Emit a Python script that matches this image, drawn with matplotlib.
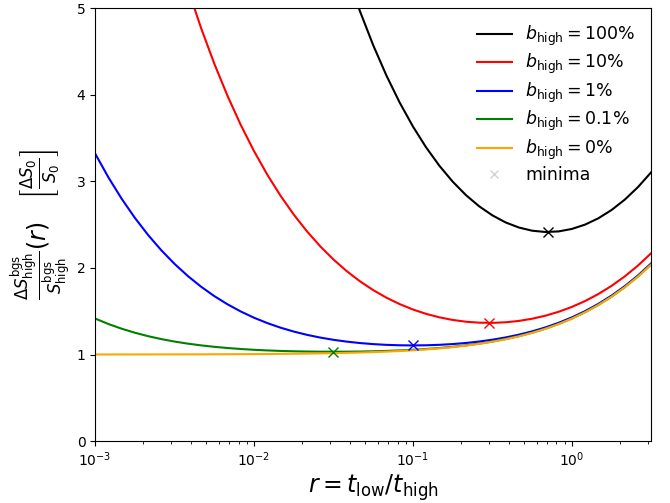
import numpy as np
import matplotlib
matplotlib.use("Agg")
import matplotlib.pyplot as plt

# r = t_low / t_high sample points (12 per decade, 1e-3 .. 10**0.5)
r_pts = [0.0010000, 0.0012115, 0.0014678, 0.0017783, 0.0021544, 0.0026102, 0.0031623,
         0.0038312, 0.0046416, 0.0056234, 0.0068129, 0.0082540,
         0.010000, 0.012115, 0.014678, 0.017783, 0.021544, 0.026102, 0.031623,
         0.038312, 0.046416, 0.056234, 0.068129, 0.082540,
         0.10000, 0.12115, 0.14678, 0.17783, 0.21544, 0.26102, 0.31623,
         0.38312, 0.46416, 0.56234, 0.68129, 0.82540,
         1.0000, 1.2115, 1.4678, 1.7783, 2.1544, 2.6102, 3.1623]

# b_high = 0%
y_b0 = [1.0005, 1.0006, 1.0007, 1.0009, 1.0011, 1.0013, 1.0016, 1.0019, 1.0023, 1.0028,
        1.0034, 1.0041, 1.0050, 1.0060, 1.0073, 1.0088, 1.0107, 1.0130, 1.0157, 1.0190,
        1.0229, 1.0277, 1.0335, 1.0405, 1.0488, 1.0588, 1.0709, 1.0853, 1.1025, 1.1230,
        1.1473, 1.1761, 1.2100, 1.2499, 1.2966, 1.3511, 1.4142, 1.4871, 1.5709, 1.6668,
        1.7761, 1.9001, 2.0402]

# b_high = 0.1%
y_b01 = [1.4153, 1.3523, 1.2980, 1.2515, 1.2118, 1.1780, 1.1495, 1.1255, 1.1055, 1.0888,
         1.0750, 1.0637, 1.0545, 1.0472, 1.0415, 1.0373, 1.0344, 1.0327, 1.0321, 1.0327,
         1.0344, 1.0373, 1.0416, 1.0473, 1.0546, 1.0637, 1.0751, 1.0889, 1.1056, 1.1257,
         1.1497, 1.1782, 1.2119, 1.2517, 1.2982, 1.3526, 1.4156, 1.4885, 1.5722, 1.6681,
         1.7774, 1.9014, 2.0415]

# b_high = 1%
y_b1 = [3.3198, 3.0455, 2.7990, 2.5778, 2.3799, 2.2031, 2.0458, 1.9063, 1.7830, 1.6745,
        1.5794, 1.4966, 1.4248, 1.3630, 1.3100, 1.2650, 1.2272, 1.1956, 1.1697, 1.1488,
        1.1324, 1.1201, 1.1116, 1.1066, 1.1050, 1.1067, 1.1119, 1.1206, 1.1331, 1.1497,
        1.1709, 1.1971, 1.2290, 1.2672, 1.3125, 1.3659, 1.4283, 1.5006, 1.5841, 1.6798,
        1.7890, 1.9131, 2.0535]

# b_high = 10% (from r = 0.0038, just above the top of the axes)
y_b10 = [5.2255, 4.7696, 4.3576, 3.9856, 3.6502, 3.3483, 3.0769, 2.8335, 2.6159, 2.4218,
         2.2494, 2.0969, 1.9627, 1.8454, 1.7436, 1.6561, 1.5818, 1.5199, 1.4692, 1.4292,
         1.3993, 1.3788, 1.3676, 1.3653, 1.3720, 1.3878, 1.4130, 1.4478, 1.4930, 1.5492,
         1.6171, 1.6978, 1.7923, 1.9017, 2.0272, 2.1703]

# b_high = 100% (from r = 0.038)
y_b100 = [5.4017, 4.9636, 4.5712, 4.2207, 3.9090, 3.6332, 3.3906, 3.1791, 2.9965, 2.8412,
          2.7117, 2.6067, 2.5251, 2.4663, 2.4296, 2.4146, 2.4212, 2.4495, 2.4997, 2.5723,
          2.6681, 2.7880, 2.9332, 3.1050]

# minima of each curve (100%, 10%, 1%, 0.1%)
r_min = [0.7071, 0.3015, 0.0995, 0.0316]
y_min = [2.4142, 1.3650, 1.1050, 1.0321]

labels = ["100\\%", "10\\%", "1\\%", "0.1\\%", "0\\%"]
colors = ["black", "red", "blue", "green", "orange"]

fig, ax = plt.subplots(figsize=(6.7, 5.03), dpi=100)
fig.subplots_adjust(left=0.142, right=0.972, top=0.984, bottom=0.123)

series = [(r_pts[-len(y_b100):], y_b100), (r_pts[-len(y_b10):], y_b10),
          (r_pts, y_b1), (r_pts, y_b01), (r_pts, y_b0)]
for (xs, ys), lab, c in zip(series, labels, colors):
    ax.plot(xs, ys, color=c, linewidth=1.5, label=r"$b_{\rm high} = %s$" % lab)

for xm, ym, c in zip(r_min, y_min, colors):
    ax.plot(xm, ym, "x", color=c, markersize=7)
ax.plot([], [], "x", color="lightgray", label="minima")

ax.set_xscale("log")
ax.set_xlim(1e-3, 10 ** 0.5)
ax.set_ylim(0, 5)
ax.set_xlabel(r"$r = t_{\rm low}/t_{\rm high}$", fontsize=17, labelpad=2)
ax.set_ylabel(r"$\frac{\Delta S^{\rm bgs}_{\rm high}}{S^{\rm bgs}_{\rm high}}(r)\quad"
              r"\left[\frac{\Delta S_0}{S_0}\right]$", fontsize=17, labelpad=2)
ax.tick_params(labelsize=10)
ax.legend(frameon=False, fontsize=12.5, labelspacing=0.25, loc="upper right")

plt.savefig("out.png", dpi=100)
plt.close()
